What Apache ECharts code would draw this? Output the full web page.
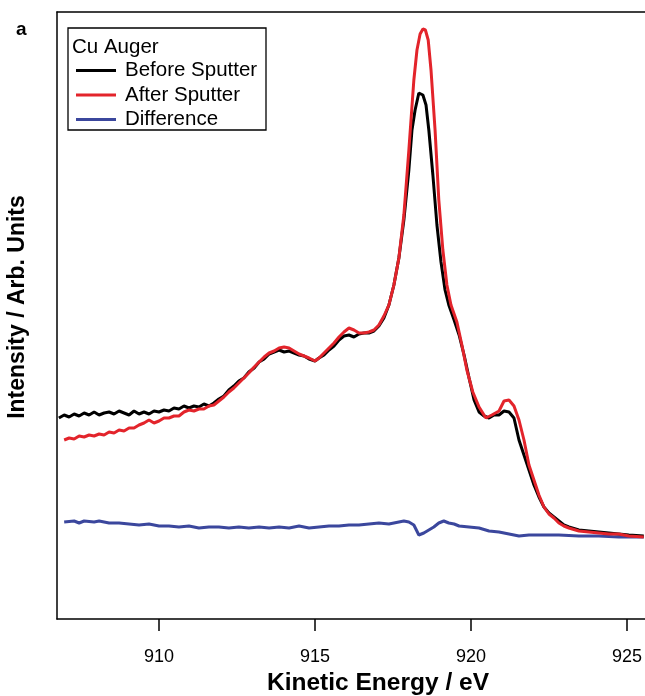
<!DOCTYPE html>
<html>
<head>
<meta charset="utf-8">
<script src="https://cdn.jsdelivr.net/npm/echarts@6/dist/echarts.min.js"></script>
<style>html,body{margin:0;padding:0;background:#fff}#c{width:645px;height:696px}</style>
</head>
<body>
<div id="c"></div>
<script>
// Kinetic energy (eV) and intensity (arb. units)
var beforeE = [906.79,906.96,907.12,907.28,907.44,907.60,907.76,907.92,908.08,908.24,908.40,908.56,908.72,908.88,909.04,909.20,909.36,909.52,909.68,909.84,910.00,910.16,910.32,910.48,910.64,910.80,910.96,911.12,911.28,911.44,911.60,911.76,911.92,912.08,912.24,912.40,912.56,912.72,912.88,913.05,913.21,913.37,913.53,913.69,913.85,914.01,914.17,914.33,914.49,914.65,914.81,915.00,915.13,915.29,915.45,915.61,915.77,915.93,916.09,916.25,916.41,916.57,916.73,916.89,917.05,917.21,917.37,917.53,917.69,917.85,918.01,918.11,918.21,918.33,918.46,918.56,918.65,918.78,918.91,919.04,919.17,919.29,919.46,919.62,919.78,919.94,920.10,920.26,920.42,920.58,920.74,920.90,921.06,921.22,921.38,921.54,921.70,921.86,922.02,922.18,922.34,922.50,922.66,922.82,922.98,923.14,923.46,923.78,924.10,924.42,924.74,925.06,925.54];
var beforeI = [200,203,201,204,202,205,203,206,203,205,206,204,207,205,203,207,204,206,204,207,206,208,207,210,209,212,210,212,211,214,212,215,219,222,228,232,237,240,246,250,256,259,264,266,268,266,267,265,263,262,259,257,260,263,268,272,278,282,283,281,284,285,285,287,292,300,313,333,360,398,448,488,508,525,523,513,488,443,393,356,328,313,298,283,263,240,218,206,202,200,203,203,207,206,200,178,163,148,133,121,111,105,101,97,93,91,88,87,86,85,84,83,82];

var afterE = [906.96,907.12,907.28,907.44,907.60,907.76,907.92,908.08,908.24,908.40,908.56,908.72,908.88,909.04,909.20,909.36,909.52,909.68,909.84,910.00,910.16,910.32,910.48,910.64,910.80,910.96,911.12,911.28,911.44,911.60,911.76,911.92,912.08,912.24,912.40,912.56,912.72,912.88,913.05,913.21,913.37,913.53,913.69,913.85,914.01,914.17,914.33,914.49,914.65,914.81,915.00,915.13,915.29,915.45,915.61,915.77,915.93,916.09,916.25,916.41,916.57,916.73,916.89,917.05,917.21,917.37,917.53,917.69,917.85,918.01,918.17,918.27,918.37,918.46,918.54,918.63,918.72,918.85,918.97,919.10,919.23,919.36,919.55,919.71,919.87,920.06,920.26,920.48,920.67,920.90,921.06,921.22,921.38,921.54,921.70,921.86,922.02,922.18,922.34,922.50,922.66,922.82,922.98,923.14,923.46,923.78,924.10,924.42,924.74,925.06,925.54];
var afterI = [178,180,179,182,181,183,182,184,183,186,185,188,187,190,190,193,195,198,195,197,200,200,202,202,206,208,207,209,209,212,213,217,221,226,230,235,240,245,251,256,261,265,267,270,271,270,267,264,262,260,257,260,265,270,275,281,286,290,288,285,285,286,288,293,302,313,333,360,403,468,538,568,584,589,588,578,548,488,418,368,333,313,296,273,248,226,211,200,203,207,217,218,212,198,178,153,138,123,111,104,100,95,92,90,87,86,85,84,84,82,81];

var diffE = [906.96,907.28,907.44,907.60,907.92,908.08,908.40,908.72,909.04,909.36,909.68,910.00,910.32,910.64,910.96,911.28,911.60,911.92,912.24,912.56,912.88,913.21,913.53,913.85,914.17,914.49,914.81,915.13,915.45,915.77,916.09,916.41,916.73,917.05,917.37,917.69,917.85,918.01,918.17,918.33,918.49,918.65,918.81,918.97,919.13,919.29,919.46,919.62,919.94,920.26,920.58,920.90,921.22,921.54,921.86,922.18,922.50,922.82,923.46,924.10,924.74,925.54];
var diffI = [96,97,95,97,96,97,95,95,94,93,94,92,92,91,92,90,91,91,90,91,90,91,90,91,90,92,90,91,92,92,93,93,94,95,94,96,97,96,93,83,85,88,91,95,97,95,94,92,91,90,87,86,84,82,83,83,83,83,82,82,81,81];

var xTicks = [910, 915, 920, 925];
var seriesNames = ['Before Sputter', 'After Sputter', 'Difference'];
var legendTitle = 'Cu Auger';

function pairs(xs, ys) { return xs.map(function (x, i) { return [x, ys[i]]; }); }

var sans = '"Liberation Sans",Arial,Helvetica,sans-serif';

var chart = echarts.init(document.getElementById('c'), null, {renderer: 'canvas'});
chart.setOption({
  animation: false,
  backgroundColor: '#fff',
  grid: {left: 57, right: 0, top: 12, bottom: 77, containLabel: false, outerBoundsMode: 'none'},
  xAxis: [{
    type: 'value', min: 906.73, max: 925.58, position: 'bottom',
    name: 'Kinetic Energy / eV', nameLocation: 'middle', nameGap: 50,
    nameTextStyle: {fontFamily: sans, fontWeight: 'bold', fontSize: 24.5, color: '#000',
      padding: [0, 0, 0, 54]},
    axisLine: {show: true, onZero: false, lineStyle: {color: '#000', width: 1.5}},
    axisTick: {show: true, length: 12, lineStyle: {color: '#000', width: 1.5},
      customValues: xTicks},
    axisLabel: {color: '#000', fontFamily: sans, fontSize: 18, margin: 29,
      customValues: xTicks},
    splitLine: {show: false}
  }, {
    type: 'value', min: 906.73, max: 925.58, position: 'top',
    axisLine: {show: true, onZero: false, lineStyle: {color: '#000', width: 1.5}},
    axisTick: {show: false}, axisLabel: {show: false}, splitLine: {show: false}
  }],
  yAxis: {
    type: 'value', min: -1, max: 606,
    axisLine: {show: true, onZero: false, lineStyle: {color: '#000', width: 1.5}},
    axisTick: {show: false}, axisLabel: {show: false}, splitLine: {show: false}
  },
  legend: {
    orient: 'vertical', left: 71, top: 55, itemWidth: 40, itemHeight: 3, itemGap: 3.5,
    icon: 'rect',
    data: seriesNames,
    textStyle: {fontFamily: sans, fontSize: 20.5, color: '#000', lineHeight: 20, padding: [0, 0, 0, 4]}
  },
  graphic: [
    {type: 'rect', z: 100, silent: true,
      shape: {x: 68, y: 28, width: 198, height: 102}, style: {fill: null, stroke: '#000', lineWidth: 1.3}},
    {type: 'text', z: 100, x: 72, y: 47,
      style: {text: legendTitle, font: '20.5px ' + sans, fill: '#000', verticalAlign: 'middle'}},
    {type: 'text', z: 100, x: 16, y: 30,
      style: {text: 'a', font: 'bold 19px ' + sans, fill: '#000', verticalAlign: 'middle'}},
    {type: 'text', z: 100, x: 18, y: 307, rotation: Math.PI / 2,
      style: {text: 'Intensity / Arb. Units', font: 'bold 23px ' + sans, fill: '#000',
        align: 'center', verticalAlign: 'middle'}}
  ],
  series: [
    {name: seriesNames[0], type: 'line', data: pairs(beforeE, beforeI), showSymbol: false,
      lineStyle: {color: '#000000', width: 3}, itemStyle: {color: '#000000'}, z: 3},
    {name: seriesNames[1], type: 'line', data: pairs(afterE, afterI), showSymbol: false,
      lineStyle: {color: '#e3242b', width: 3}, itemStyle: {color: '#e3242b'}, z: 4},
    {name: seriesNames[2], type: 'line', data: pairs(diffE, diffI), showSymbol: false,
      lineStyle: {color: '#3b479d', width: 3}, itemStyle: {color: '#3b479d'}, z: 2}
  ]
});
</script>
</body>
</html>
